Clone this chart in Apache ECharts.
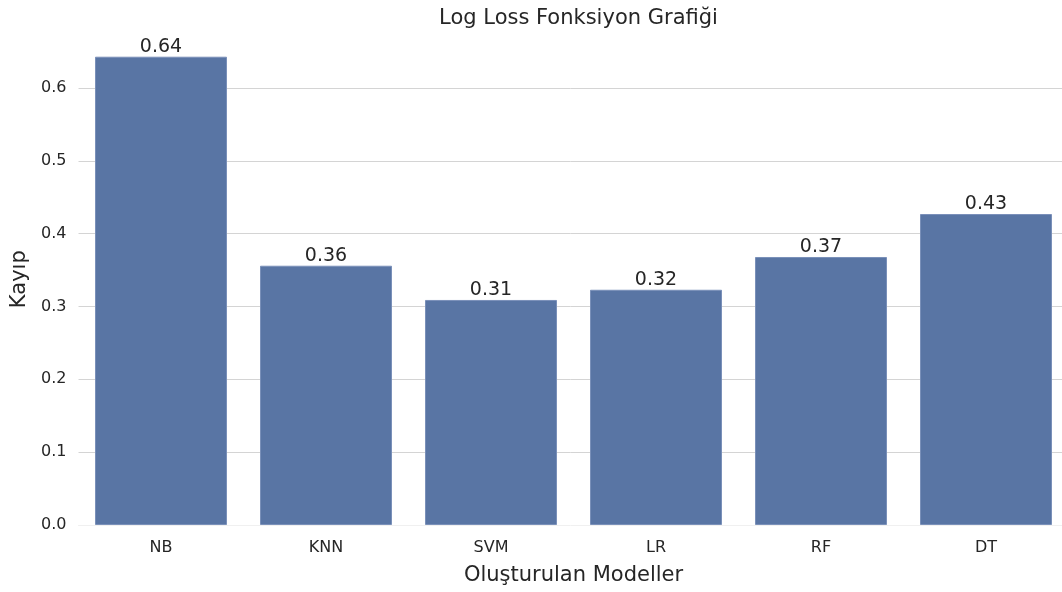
<!DOCTYPE html>
<html>
<head>
<meta charset="utf-8">
<script src="https://cdn.jsdelivr.net/npm/echarts@6/dist/echarts.min.js"></script>
<style>
html,body{margin:0;padding:0;background:#fff;}
#chart{width:1062px;height:592px;}
</style>
</head>
<body>
<div id="chart"></div>
<script>
const categories = ['NB', 'KNN', 'SVM', 'LR', 'RF', 'DT'];
const lossValues = [0.643, 0.356, 0.309, 0.323, 0.368, 0.427];
const yTicks = [0.0, 0.1, 0.2, 0.3, 0.4, 0.5, 0.6];

const FONT = 'DejaVu Sans';
const chart = echarts.init(document.getElementById('chart'), null, {renderer: 'canvas'});
chart.setOption({
  animation: false,
  backgroundColor: '#ffffff',
  title: {
    text: 'Log Loss Fonksiyon Grafiği',
    left: 573.5, textAlign: 'center', top: 3,
    textStyle: {fontFamily: FONT, fontSize: 21, fontWeight: 'normal', color: '#262626'}
  },
  grid: {left: 78.5, right: -6.5, top: 33.4, bottom: 67, containLabel: false, outerBoundsMode: 'none'},
  xAxis: {
    type: 'category',
    data: categories,
    name: 'Oluşturulan Modeller',
    nameLocation: 'middle',
    nameGap: 40,
    nameTextStyle: {fontFamily: FONT, fontSize: 21, color: '#262626'},
    axisLine: {show: true, lineStyle: {color: '#f0f0f0', width: 1}},
    axisTick: {show: false},
    axisLabel: {fontFamily: FONT, fontSize: 16, color: '#262626', margin: 15},
    splitLine: {show: false}
  },
  yAxis: {
    type: 'value',
    min: 0, max: 0.675, interval: 0.1,
    name: 'Kayıp',
    nameLocation: 'middle',
    nameGap: 47,
    nameTextStyle: {fontFamily: FONT, fontSize: 21, color: '#262626'},
    axisLine: {show: false},
    axisTick: {show: false},
    axisLabel: {
      fontFamily: FONT, fontSize: 16, color: '#262626', margin: 12,
      showMaxLabel: false,
      formatter: v => yTicks.some(t => Math.abs(t - v) < 1e-9) ? v.toFixed(1) : ''
    },
    splitLine: {show: true, showMinLine: false, showMaxLine: false, lineStyle: {color: '#d4d4d4', width: 1}}
  },
  series: [{
    type: 'bar',
    data: lossValues,
    barCategoryGap: '20%',
    itemStyle: {color: '#5975a4', borderColor: '#7a90b9', borderWidth: 1},
    label: {
      show: true, position: 'top', distance: 0,
      fontFamily: FONT, fontSize: 19, color: '#262626',
      formatter: p => p.value.toFixed(2)
    }
  }]
});
</script>
</body>
</html>
